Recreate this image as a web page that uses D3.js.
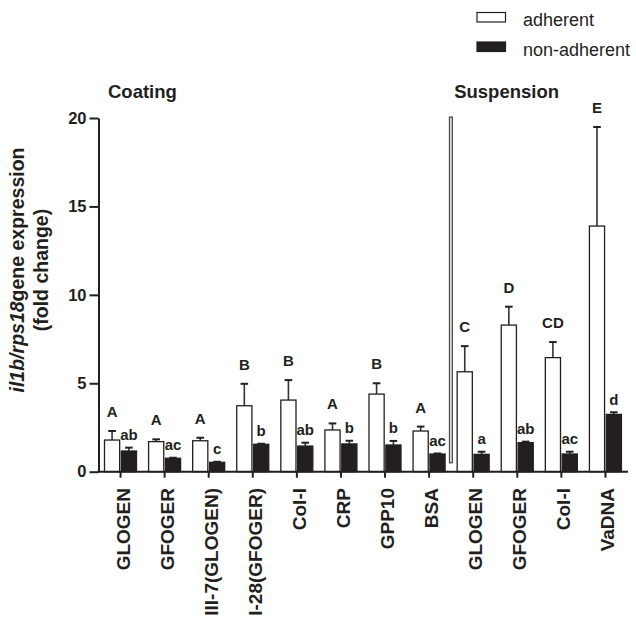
<!DOCTYPE html>
<html>
<head>
<meta charset="utf-8">
<script src="https://cdn.jsdelivr.net/npm/d3@7"></script>
<style>
  html, body { margin: 0; padding: 0; background: #fff; }
  svg { display: block; font-family: "Liberation Sans", Arial, Helvetica, sans-serif; }
</style>
</head>
<body>
<svg id="chart" width="636" height="617"></svg>
<script>
// Categories along the x axis (coating substrates, then suspension ligands)
const categories = ["GLOGEN", "GFOGER", "III-7(GLOGEN)", "II-28(GFOGER)", "Col-I", "CRP",
                    "GPP10", "BSA", "GLOGEN", "GFOGER", "Col-I", "VaDNA"];

// il1b/rps18 fold change: means and upper error (SEM)
const adherentMean = [1.79, 1.70, 1.75, 3.73, 4.05, 2.36, 4.39, 2.30, 5.65, 8.29, 6.45, 13.89];
const adherentErr  = [0.51, 0.13, 0.17, 1.24, 1.13, 0.37, 0.61, 0.25, 1.45, 1.04, 0.88, 5.60];
const nonAdherentMean = [1.17, 0.76, 0.53, 1.55, 1.45, 1.57, 1.51, 1.00, 0.98, 1.64, 1.00, 3.24];
const nonAdherentErr  = [0.19, 0.03, 0.03, 0.03, 0.19, 0.18, 0.23, 0.03, 0.15, 0.06, 0.13, 0.12];

// Significance letters
const adherentLetters = ["A", "A", "A", "B", "B", "A", "B", "A", "C", "D", "CD", "E"];
const nonAdherentLetters = ["ab", "ac", "c", "b", "ab", "b", "b", "ac", "a", "ab", "ac", "d"];

// Group headings and the category index each group starts at
const groupNames = ["Coating", "Suspension"];
const groupStart = [0, 8];

const seriesNames = ["adherent", "non-adherent"];
const yTicks = [0, 5, 10, 15, 20];

const ink = "#231f20";
const svg = d3.select("#chart");

const x = d3.scaleBand().domain(d3.range(categories.length)).range([98.5, 627.5]);
const x1 = d3.scaleBand().domain(seriesNames).range([6, 38]).paddingInner(0.1);
const y = d3.scaleLinear().domain([0, 20]).range([471.7, 118]);

const series = [
  { name: "adherent", mean: adherentMean, err: adherentErr, letters: adherentLetters,
    fill: "#fff", gap: 14 },
  { name: "non-adherent", mean: nonAdherentMean, err: nonAdherentErr, letters: nonAdherentLetters,
    fill: ink, gap: 7.5 }
];

// Bars, error bars and letters
series.forEach(s => {
  const g = svg.append("g");
  const data = categories.map((c, i) => ({ i, v: s.mean[i], e: s.err[i], l: s.letters[i] }));
  const bx = d => x(d.i) + x1(s.name);
  const bw = x1.bandwidth();

  g.selectAll("line.err").data(data).join("line")
    .attr("x1", d => bx(d) + bw / 2).attr("x2", d => bx(d) + bw / 2)
    .attr("y1", d => y(d.v)).attr("y2", d => y(d.v + d.e))
    .attr("stroke", "#333").attr("stroke-width", 1.6);
  g.selectAll("line.cap").data(data).join("line")
    .attr("x1", d => bx(d) + bw / 2 - 3.8).attr("x2", d => bx(d) + bw / 2 + 3.8)
    .attr("y1", d => y(d.v + d.e)).attr("y2", d => y(d.v + d.e))
    .attr("stroke", ink).attr("stroke-width", 2);

  g.selectAll("rect").data(data).join("rect")
    .attr("x", bx).attr("width", bw)
    .attr("y", d => y(d.v)).attr("height", d => y(0) - y(d.v))
    .attr("fill", s.fill).attr("stroke", ink).attr("stroke-width", 1.3);

  g.selectAll("text").data(data).join("text")
    .attr("x", d => bx(d) + bw / 2)
    .attr("y", d => y(d.v + d.e) - s.gap)
    .attr("text-anchor", "middle")
    .attr("font-size", 15).attr("font-weight", "bold").attr("fill", ink)
    .text(d => d.l);
});

// Divider between coating and suspension groups
svg.append("rect")
  .attr("x", x(groupStart[1]) - 1.8).attr("width", 3)
  .attr("y", y(20) - 1).attr("height", y(0.5) - y(20) + 1)
  .attr("fill", "#d4d4d4").attr("stroke", "#333").attr("stroke-width", 1);

// Y axis
const yAxis = svg.append("g").attr("transform", "translate(98.5,0)")
  .call(d3.axisLeft(y).tickValues(yTicks).tickSize(9).tickSizeOuter(0).tickPadding(3));
yAxis.selectAll("path, line").attr("stroke", ink).attr("stroke-width", 2);
yAxis.selectAll("text").attr("font-size", 16.5).attr("font-weight", "bold")
  .attr("fill", ink).attr("font-family", "Liberation Sans, Arial, sans-serif");

// X axis with rotated category labels
const xAxis = svg.append("g").attr("transform", `translate(0,${y(0)})`)
  .call(d3.axisBottom(x).tickSize(6).tickSizeOuter(0).tickFormat(""));
xAxis.selectAll("path, line").attr("stroke", ink).attr("stroke-width", 2);
xAxis.select(".domain").attr("d", `M97.5,0H628`);

svg.append("g").selectAll("text").data(categories).join("text")
  .attr("transform", (d, i) => `translate(${x(i) + x.bandwidth() / 2 + 9},488) rotate(-90)`)
  .attr("text-anchor", "end")
  .attr("font-size", 19).attr("font-weight", "bold").attr("fill", ink)
  .text(d => d);

// Group headings
svg.append("g").selectAll("text").data(groupNames).join("text")
  .attr("x", (d, i) => x(groupStart[i]) + (i === 0 ? 9.5 : 3))
  .attr("y", 98)
  .attr("font-size", 18.5).attr("font-weight", "bold").attr("fill", ink)
  .text(d => d);

// Y axis title (two lines)
const yTitle = svg.append("text")
  .attr("transform", "translate(24,270) rotate(-90)")
  .attr("text-anchor", "middle")
  .attr("font-size", 19.5).attr("font-weight", "bold").attr("fill", ink);
yTitle.append("tspan").attr("font-style", "italic").text("il1b/rps18");
yTitle.append("tspan").text("gene expression");
svg.append("text")
  .attr("transform", "translate(47.5,270) rotate(-90)")
  .attr("text-anchor", "middle")
  .attr("font-size", 19.5).attr("font-weight", "bold").attr("fill", ink)
  .text("(fold change)");

// Legend
const legend = svg.append("g").selectAll("g").data(series).join("g")
  .attr("transform", (d, i) => `translate(477,${12.5 + i * 29.5})`);
legend.append("rect").attr("width", 28.5).attr("height", 9.5)
  .attr("fill", d => d.fill).attr("stroke", ink).attr("stroke-width", 1.2);
legend.append("text").attr("x", 46).attr("y", 13.5)
  .attr("font-size", 18).attr("fill", ink)
  .text(d => d.name);
</script>
</body>
</html>
